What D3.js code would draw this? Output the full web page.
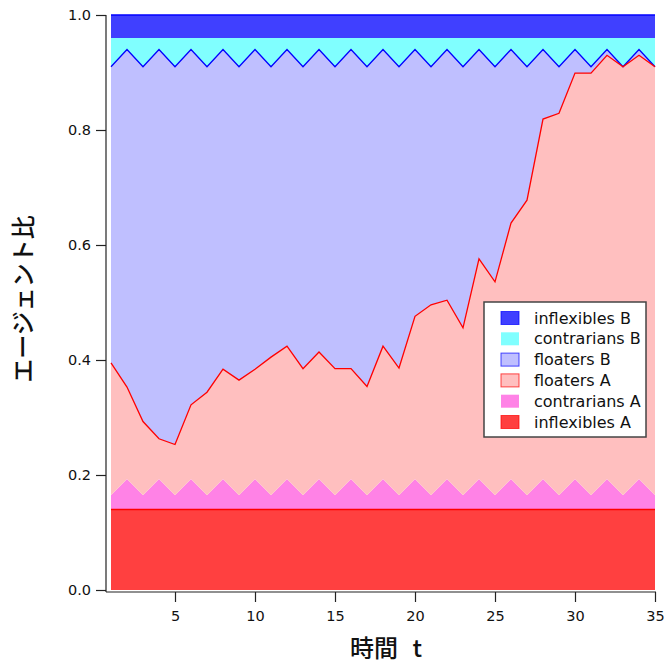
<!DOCTYPE html>
<html>
<head>
<meta charset="utf-8">
<script src="https://cdn.jsdelivr.net/npm/d3@7"></script>
<style>
  html, body { margin: 0; padding: 0; background: #fff; }
  svg { display: block; }
</style>
</head>
<body>
<svg id="chart" width="669" height="663"></svg>
<script>
// Time steps
const time = [1,2,3,4,5,6,7,8,9,10,11,12,13,14,15,16,17,18,19,20,
              21,22,23,24,25,26,27,28,29,30,31,32,33,34,35];

// Agent fractions per type (stacked bottom to top)
const inflexiblesA = [0.14,0.14,0.14,0.14,0.14,0.14,0.14,0.14,0.14,0.14,0.14,0.14,0.14,0.14,0.14,0.14,0.14,0.14,
                      0.14,0.14,0.14,0.14,0.14,0.14,0.14,0.14,0.14,0.14,0.14,0.14,0.14,0.14,0.14,0.14,0.14];
const contrariansA = [0.025,0.053,0.025,0.053,0.025,0.053,0.025,0.053,0.025,0.053,0.025,0.053,0.025,0.053,0.025,0.053,0.025,0.053,
                      0.025,0.053,0.025,0.053,0.025,0.053,0.025,0.053,0.025,0.053,0.025,0.053,0.025,0.053,0.025,0.053,0.025];
const floatersA = [0.230,0.160,0.128,0.070,0.088,0.129,0.179,0.191,0.200,0.191,0.240,0.231,0.220,0.221,0.220,0.192,0.189,0.231,
                   0.221,0.283,0.331,0.311,0.291,0.383,0.371,0.445,0.513,0.626,0.664,0.706,0.734,0.737,0.745,0.737,0.745];
const floatersB = [0.515,0.587,0.617,0.677,0.657,0.618,0.566,0.556,0.545,0.556,0.505,0.516,0.525,0.526,0.525,0.555,0.556,0.516,
                   0.524,0.464,0.414,0.436,0.454,0.364,0.374,0.302,0.232,0.121,0.081,0.041,0.011,0.010,0.000,0.010,0.000];
const contrariansB = [0.05,0.02,0.05,0.02,0.05,0.02,0.05,0.02,0.05,0.02,0.05,0.02,0.05,0.02,0.05,0.02,0.05,0.02,
                      0.05,0.02,0.05,0.02,0.05,0.02,0.05,0.02,0.05,0.02,0.05,0.02,0.05,0.02,0.05,0.02,0.05];
const inflexiblesB = [0.04,0.04,0.04,0.04,0.04,0.04,0.04,0.04,0.04,0.04,0.04,0.04,0.04,0.04,0.04,0.04,0.04,0.04,
                      0.04,0.04,0.04,0.04,0.04,0.04,0.04,0.04,0.04,0.04,0.04,0.04,0.04,0.04,0.04,0.04,0.04];

const xTicks = [5,10,15,20,25,30,35];
const yTicks = [0.0,0.2,0.4,0.6,0.8,1.0];

const series = [
  { key: "inflexiblesA", label: "inflexibles A", values: inflexiblesA, fill: "#ff4040", stroke: "#ff0000" },
  { key: "contrariansA", label: "contrarians A", values: contrariansA, fill: "#ff82e6", stroke: null },
  { key: "floatersA",    label: "floaters A",    values: floatersA,    fill: "#ffbfbf", stroke: "#ff0000" },
  { key: "floatersB",    label: "floaters B",    values: floatersB,    fill: "#bfbfff", stroke: "#0000ff" },
  { key: "contrariansB", label: "contrarians B", values: contrariansB, fill: "#80ffff", stroke: null },
  { key: "inflexiblesB", label: "inflexibles B", values: inflexiblesB, fill: "#4040ff", stroke: "#0000ff" }
];

const rows = time.map((t, i) => {
  const r = { t };
  series.forEach(s => { r[s.key] = s.values[i]; });
  return r;
});

const stacked = d3.stack().keys(series.map(s => s.key))(rows);

const svg = d3.select("#chart");
const x = d3.scaleLinear().domain([1, 35]).range([111, 655]);
const y = d3.scaleLinear().domain([0, 1]).range([590, 15]);

const area = d3.area()
  .x(d => x(d.data.t))
  .y0(d => y(d[0]))
  .y1(d => y(d[1]));

const topLine = d3.line()
  .x(d => x(d.data.t))
  .y(d => y(d[1]));

const plot = svg.append("g");

plot.selectAll("path.layer")
  .data(stacked)
  .join("path")
  .attr("class", "layer")
  .attr("fill", (d, i) => series[i].fill)
  .attr("d", area);

// upper edges: blue lines first, red lines on top
const edgeOrder = [5, 3, 0, 2];
edgeOrder.forEach(i => {
  plot.append("path")
    .datum(stacked[i])
    .attr("fill", "none")
    .attr("stroke", series[i].stroke)
    .attr("stroke-width", 1.3)
    .attr("stroke-linejoin", "miter")
    .attr("d", topLine);
});

// axes
const axisColor = "#222";
const yAxis = svg.append("g")
  .attr("transform", "translate(106,0)")
  .call(d3.axisLeft(y).tickValues(yTicks).tickFormat(d3.format(".1f")).tickSize(10).tickSizeOuter(0).tickPadding(5));
yAxis.select(".domain").remove();
svg.append("line")
  .attr("x1", 106).attr("x2", 106)
  .attr("y1", y(1)).attr("y2", 592)
  .attr("stroke", axisColor).attr("stroke-width", 1.2);

const xAxis = svg.append("g")
  .attr("transform", "translate(0,592)")
  .call(d3.axisBottom(x).tickValues(xTicks).tickSize(10).tickSizeOuter(0).tickPadding(9));
xAxis.select(".domain").remove();
svg.append("line")
  .attr("x1", 106).attr("x2", 656)
  .attr("y1", 592).attr("y2", 592)
  .attr("stroke", axisColor).attr("stroke-width", 1.2);

svg.selectAll(".tick line").attr("stroke", axisColor).attr("stroke-width", 1.2);
svg.selectAll(".tick text")
  .attr("fill", "#111")
  .style("font-family", "'DejaVu Sans', sans-serif")
  .style("font-size", "14.5px");

// axis titles
svg.append("text")
  .attr("x", 386).attr("y", 657)
  .attr("text-anchor", "middle")
  .style("font-family", "'Noto Sans CJK JP', sans-serif")
  .style("font-size", "24px")
  .style("font-weight", "500")
  .style("word-spacing", "9px")
  .attr("fill", "#111")
  .text("時間 t");

svg.append("text")
  .attr("transform", "translate(32,299) rotate(-90)")
  .attr("text-anchor", "middle")
  .style("font-family", "'Noto Sans CJK JP', sans-serif")
  .style("font-size", "24px")
  .style("font-weight", "500")
  .attr("fill", "#111")
  .text("エージェント比");

// legend
const legend = svg.append("g").attr("transform", "translate(484,302)");
legend.append("rect")
  .attr("width", 162).attr("height", 135)
  .attr("fill", "#fff")
  .attr("stroke", "#444")
  .attr("stroke-width", 1.5);

const legendItems = series.slice().reverse();
const item = legend.selectAll("g.item")
  .data(legendItems)
  .join("g")
  .attr("class", "item")
  .attr("transform", (d, i) => `translate(0,${16 + i * 20.8})`);

item.append("rect")
  .attr("x", 17).attr("y", -6.5)
  .attr("width", 18).attr("height", 13)
  .attr("fill", d => d.fill)
  .attr("stroke", d => d.stroke ? d.stroke : "none")
  .attr("stroke-opacity", 0.7)
  .attr("stroke-width", 1);

item.append("text")
  .attr("x", 50).attr("y", 5.5)
  .style("font-family", "'DejaVu Sans', sans-serif")
  .style("font-size", "16px")
  .attr("fill", "#111")
  .text(d => d.label);
</script>
</body>
</html>
